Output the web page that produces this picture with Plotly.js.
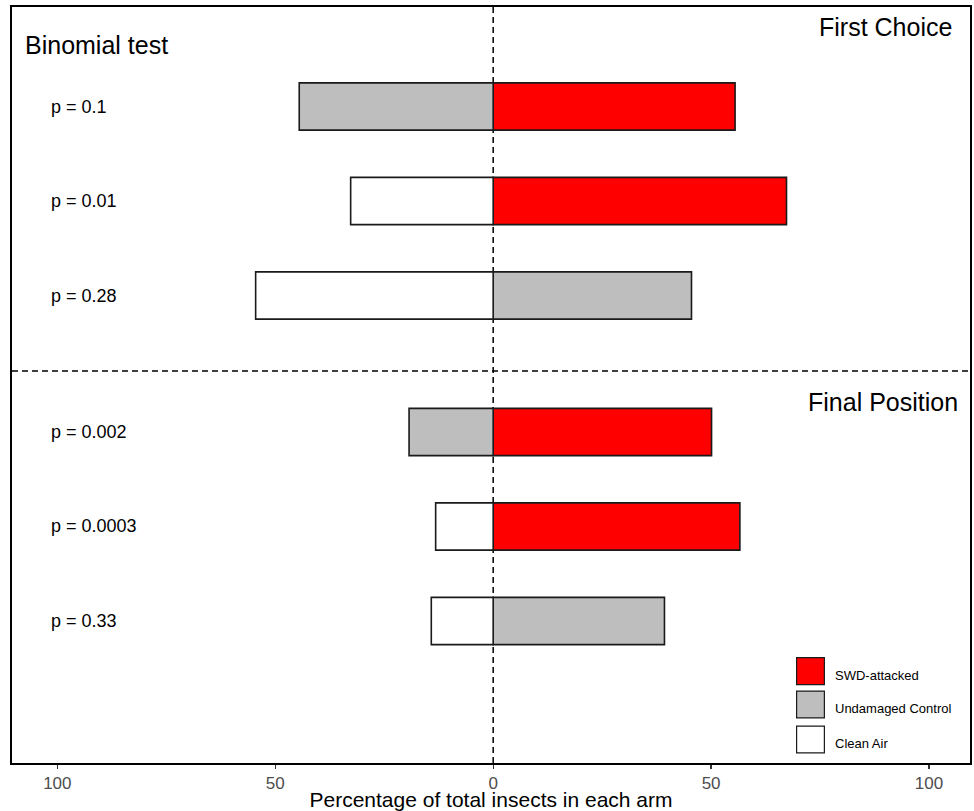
<!DOCTYPE html>
<html>
<head>
<meta charset="utf-8">
<script src="https://cdn.plot.ly/plotly-3.0.1.min.js"></script>
<style>html,body{margin:0;padding:0;background:#fff;}#chart{width:974px;height:811px;}</style>
</head>
<body>
<div id="chart"></div>
<script>
// ---- data ----
const rowLabels = ['p = 0.1', 'p = 0.01', 'p = 0.28', 'p = 0.002', 'p = 0.0003', 'p = 0.33'];
const rowGroup = ['First Choice', 'First Choice', 'First Choice', 'Final Position', 'Final Position', 'Final Position'];
const groups = ['First Choice', 'Final Position'];
const leftTreatment = ['Undamaged Control', 'Clean Air', 'Clean Air', 'Undamaged Control', 'Clean Air', 'Clean Air'];
const leftPct = [44.5, 32.7, 54.5, 19.3, 13.2, 14.2];
const rightTreatment = ['SWD-attacked', 'SWD-attacked', 'Undamaged Control', 'SWD-attacked', 'SWD-attacked', 'Undamaged Control'];
const rightPct = [55.5, 67.3, 45.5, 50.1, 56.6, 39.3];
const treatments = ['SWD-attacked', 'Undamaged Control', 'Clean Air'];
const treatmentColors = ['#FF0000', '#BEBEBE', '#FFFFFF'];
const tickVals = [-100, -50, 0, 50, 100];
const tickText = ['100', '50', '0', '50', '100'];
const sideTitle = 'Binomial test';
const xTitle = 'Percentage of total insects in each arm';

// ---- layout helpers ----
const FONT = 'Liberation Sans, Arial, Helvetica, sans-serif';
const groupGap = 0.444;
const yPos = rowLabels.map((_, i) => i + groups.indexOf(rowGroup[i]) * groupGap);

const traces = treatments.map((t, k) => {
  const xs = [], ys = [];
  rowLabels.forEach((_, i) => {
    if (leftTreatment[i] === t) { xs.push(-leftPct[i]); ys.push(yPos[i]); }
    if (rightTreatment[i] === t) { xs.push(rightPct[i]); ys.push(yPos[i]); }
  });
  return {
    type: 'bar', orientation: 'h', name: t, x: xs, y: ys, base: 0,
    width: 0.5,
    marker: { color: treatmentColors[k], line: { color: '#1a1a1a', width: 1.6 } },
    showlegend: false, hoverinfo: 'skip'
  };
});

const annotations = rowLabels.map((lab, i) => ({
  text: lab, x: -102, y: yPos[i], xref: 'x', yref: 'y',
  xanchor: 'left', yanchor: 'middle', showarrow: false,
  font: { family: FONT, size: 18, color: '#000' }
}));
annotations.push({ text: sideTitle, x: 0.011, y: 0.95, xref: 'paper', yref: 'paper',
  xanchor: 'left', yanchor: 'middle', showarrow: false, font: { family: FONT, size: 25, color: '#000' } });
annotations.push({ text: groups[0], x: 0.983, y: 0.974, xref: 'paper', yref: 'paper',
  xanchor: 'right', yanchor: 'middle', showarrow: false, font: { family: FONT, size: 25, color: '#000' } });
annotations.push({ text: groups[1], x: 0.99, y: 0.478, xref: 'paper', yref: 'paper',
  xanchor: 'right', yanchor: 'middle', showarrow: false, font: { family: FONT, size: 25, color: '#000' } });

// legend drawn as swatches + labels
const shapes = [];
const legTop = [0.1393, 0.0952, 0.0489];
const legH = 0.0355;
treatments.forEach((t, k) => {
  shapes.push({ type: 'rect', xref: 'paper', yref: 'paper', x0: 0.819, x1: 0.848,
    y0: legTop[k] - legH, y1: legTop[k], fillcolor: treatmentColors[k],
    line: { color: '#1a1a1a', width: 1.2 } });
  annotations.push({ text: t, x: 0.857, y: legTop[k] - legH / 2 - 0.006, xref: 'paper', yref: 'paper',
    xanchor: 'left', yanchor: 'middle', showarrow: false, font: { family: FONT, size: 13, color: '#000' } });
});
// reference lines
shapes.push({ type: 'line', xref: 'x', yref: 'paper', x0: 0, x1: 0, y0: 0, y1: 1,
  line: { color: '#000', width: 1.5, dash: '6px,4px' }, layer: 'below' });
shapes.push({ type: 'line', xref: 'paper', yref: 'y', x0: 0, x1: 1, y0: 2.8, y1: 2.8,
  line: { color: '#000', width: 1.5, dash: '6px,4px' }, layer: 'below' });

const layout = {
  width: 974, height: 811,
  margin: { l: 12, r: 4, t: 7, b: 48 },
  paper_bgcolor: '#fff', plot_bgcolor: '#fff',
  barmode: 'overlay',
  font: { family: FONT, color: '#000' },
  xaxis: {
    range: [-110.4, 109.4], tickvals: tickVals, ticktext: tickText,
    ticks: 'outside', ticklen: 4, tickwidth: 1.2, tickcolor: '#333',
    tickfont: { family: FONT, size: 17, color: '#4D4D4D' },
    showgrid: false, zeroline: false,
    showline: true, mirror: true, linecolor: '#000', linewidth: 1.8,
    title: { text: xTitle, font: { family: FONT, size: 21, color: '#000' }, standoff: 0 }
  },
  yaxis: {
    range: [6.947, -1.053], showticklabels: false, ticks: '',
    showgrid: false, zeroline: false,
    showline: true, mirror: true, linecolor: '#000', linewidth: 1.8
  },
  shapes: shapes, annotations: annotations, showlegend: false
};

Plotly.newPlot('chart', traces, layout, { displayModeBar: false, staticPlot: true });
</script>
</body>
</html>
